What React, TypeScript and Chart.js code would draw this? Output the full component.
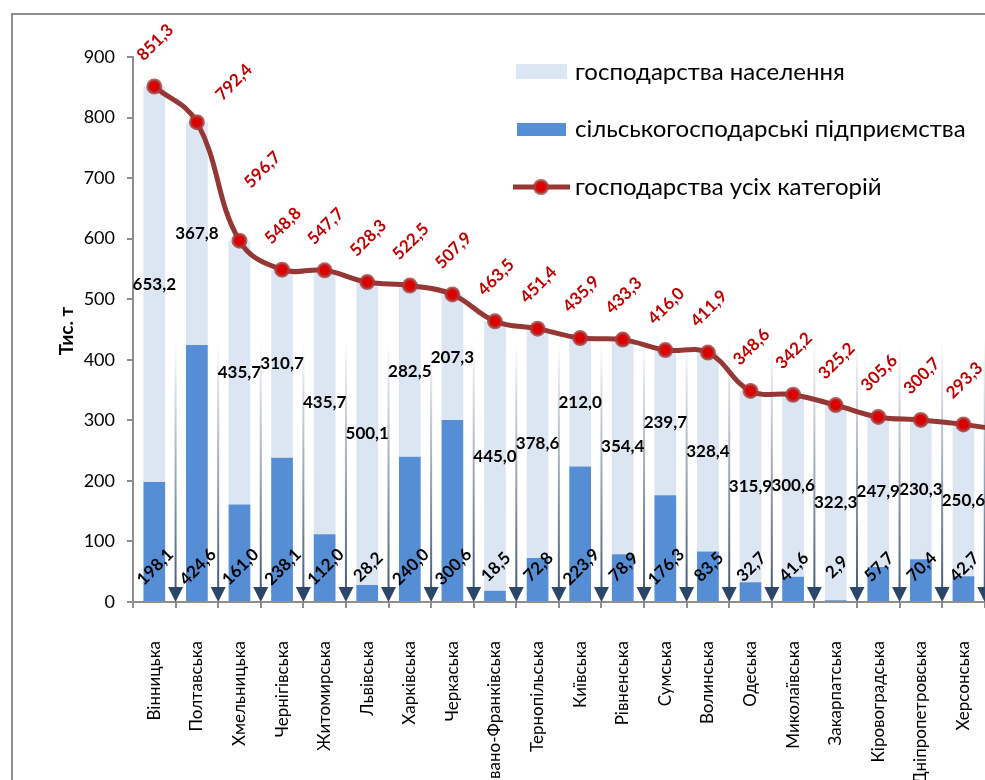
import React, { useEffect, useRef } from 'react';
import { Chart, registerables } from 'chart.js';

Chart.register(...registerables);

const categories = [
  'Вінницька', 'Полтавська', 'Хмельницька', 'Чернігівська', 'Житомирська',
  'Львівська', 'Харківська', 'Черкаська', 'Івано-Франківська', 'Тернопільська',
  'Київська', 'Рівненська', 'Сумська', 'Волинська', 'Одеська',
  'Миколаївська', 'Закарпатська', 'Кіровоградська', 'Дніпропетровська', 'Херсонська',
  '',
];

const enterprises = [
  198.1, 424.6, 161.0, 238.1, 112.0, 28.2, 240.0, 300.6, 18.5, 72.8,
  223.9, 78.9, 176.3, 83.5, 32.7, 41.6, 2.9, 57.7, 70.4, 42.7, null,
];

const households = [
  653.2, 367.8, 435.7, 310.7, 435.7, 500.1, 282.5, 207.3, 445.0, 378.6,
  212.0, 354.4, 239.7, 328.4, 315.9, 300.6, 322.3, 247.9, 230.3, 250.6, null,
];

const totals = [
  851.3, 792.4, 596.7, 548.8, 547.7, 528.3, 522.5, 507.9, 463.5, 451.4,
  435.9, 433.3, 416.0, 411.9, 348.6, 342.2, 325.2, 305.6, 300.7, 293.3, 283.0,
];

const yTicks = [0, 100, 200, 300, 400, 500, 600, 700, 800, 900];

const legendLabels = [
  'господарства населення',
  'сільськогосподарські підприємства',
  'господарства усіх категорій',
];

const axisTitle = 'Тис. т';

const W = 1060;
const H = 780;
const FONT = 'Lato, "Open Sans", "Noto Sans", sans-serif';

const LIGHT = '#dce6f2';
const BLUE = '#558ed5';
const LINE = '#953735';
const MARK = '#dd0000';
const RED_TXT = '#c00000';
const AXIS = '#8e8e8e';
const ARROW = '#2c4669';

// manual label nudges (pixels) for the total labels, as placed in the original
const totalNudge: Record<number, [number, number]> = {
  1: [36, 4],
  2: [22, -27],
};

const fmt = (v: number) => v.toFixed(1).replace('.', ',');

export default function App() {
  const ref = useRef<HTMLCanvasElement>(null);

  useEffect(() => {
    const canvas = ref.current!;

    const decor = {
      id: 'decor',
      beforeDatasetsDraw(chart: any) {
        const ctx = chart.ctx;
        const xs = chart.scales.x;
        const area = chart.chartArea;
        const cw = (area.right - area.left) / categories.length;
        const topY = 340;
        const bot = area.bottom;
        ctx.save();
        for (let i = 0; i < categories.length; i++) {
          const bx = xs.getPixelForValue(i) + cw / 2;
          const g = ctx.createLinearGradient(0, topY, 0, bot - 14);
          g.addColorStop(0, 'rgba(60,85,120,0)');
          g.addColorStop(1, 'rgba(60,85,120,0.95)');
          ctx.strokeStyle = g;
          ctx.lineWidth = 2;
          ctx.beginPath();
          ctx.moveTo(bx, topY);
          ctx.lineTo(bx, bot - 14);
          ctx.stroke();
          ctx.fillStyle = ARROW;
          ctx.beginPath();
          ctx.moveTo(bx - 7.5, bot - 15);
          ctx.lineTo(bx + 7.5, bot - 15);
          ctx.lineTo(bx, bot);
          ctx.closePath();
          ctx.fill();
        }
        ctx.restore();
      },
      afterDatasetsDraw(chart: any) {
        const ctx = chart.ctx;
        const xs = chart.scales.x;
        const ys = chart.scales.y;
        const area = chart.chartArea;
        ctx.save();
        for (let i = 0; i < categories.length; i++) {
          const xc = xs.getPixelForValue(i);
          const e = enterprises[i];
          const h = households[i];
          const t = totals[i];
          if (h != null && e != null) {
            ctx.font = `bold 17px ${FONT}`;
            ctx.fillStyle = '#000';
            ctx.textAlign = 'center';
            ctx.textBaseline = 'middle';
            ctx.fillText(fmt(h), xc, ys.getPixelForValue(e + h / 2));
          }
          if (e != null) {
            ctx.save();
            ctx.translate(xc + 1, area.bottom - 35);
            ctx.rotate(-Math.PI / 4);
            ctx.font = `bold 17px ${FONT}`;
            ctx.fillStyle = '#000';
            ctx.textAlign = 'center';
            ctx.textBaseline = 'middle';
            ctx.fillText(fmt(e), 0, 0);
            ctx.restore();
          }
          if (t != null) {
            const nd = totalNudge[i] || [0, 0];
            ctx.save();
            ctx.translate(xc + 1 + nd[0], ys.getPixelForValue(t) - 44 + nd[1]);
            ctx.rotate(-Math.PI / 4);
            ctx.font = `bold 17px ${FONT}`;
            ctx.fillStyle = RED_TXT;
            ctx.textAlign = 'center';
            ctx.textBaseline = 'middle';
            ctx.fillText(fmt(t), 0, 0);
            ctx.restore();
          }
        }
        ctx.restore();
      },
      afterDraw(chart: any) {
        const ctx = chart.ctx;
        ctx.save();
        ctx.translate(67, 331);
        ctx.rotate(-Math.PI / 2);
        ctx.font = `bold 19px ${FONT}`;
        ctx.fillStyle = '#000';
        ctx.textAlign = 'center';
        ctx.textBaseline = 'middle';
        ctx.fillText(axisTitle, 0, 0);
        ctx.restore();

        ctx.save();
        ctx.font = `24px ${FONT}`;
        ctx.textAlign = 'left';
        ctx.textBaseline = 'middle';
        const rows = [72, 129, 187];
        ctx.fillStyle = LIGHT;
        ctx.fillRect(516, 64, 51, 15);
        ctx.fillStyle = BLUE;
        ctx.fillRect(517, 123, 49, 13);
        ctx.strokeStyle = LINE;
        ctx.lineWidth = 5;
        ctx.beginPath();
        ctx.moveTo(513, 187);
        ctx.lineTo(570, 187);
        ctx.stroke();
        ctx.beginPath();
        ctx.arc(541, 187, 6.5, 0, Math.PI * 2);
        ctx.fillStyle = MARK;
        ctx.fill();
        ctx.lineWidth = 3;
        ctx.strokeStyle = 'rgba(165,60,60,0.8)';
        ctx.stroke();
        ctx.fillStyle = '#000';
        for (let i = 0; i < 3; i++) ctx.fillText(legendLabels[i], 575, rows[i]);
        ctx.restore();
      },
    };

    const chart = new Chart(canvas, {
      type: 'bar',
      data: {
        labels: categories,
        datasets: [
          {
            type: 'line',
            label: legendLabels[2],
            data: totals,
            stack: 'line',
            order: 0,
            borderColor: LINE,
            borderWidth: 5,
            tension: 0.4,
            pointRadius: 6.5,
            pointBackgroundColor: MARK,
            pointBorderColor: 'rgba(165,60,60,0.8)',
            pointBorderWidth: 3,
            fill: false,
          } as any,
          {
            type: 'bar',
            label: legendLabels[1],
            data: enterprises,
            stack: 'bars',
            order: 1,
            backgroundColor: BLUE,
            barPercentage: 0.51,
            categoryPercentage: 1,
          },
          {
            type: 'bar',
            label: legendLabels[0],
            data: households,
            stack: 'bars',
            order: 1,
            backgroundColor: LIGHT,
            barPercentage: 0.51,
            categoryPercentage: 1,
          },
        ],
      },
      options: {
        responsive: false,
        animation: false,
        events: [],
        layout: { padding: { left: 0, top: 57, right: 24, bottom: 0 } },
        plugins: { legend: { display: false }, tooltip: { enabled: false } },
        scales: {
          x: {
            stacked: true,
            offset: true,
            grid: {
              offset: true,
              drawOnChartArea: false,
              drawTicks: true,
              tickLength: 6,
              color: AXIS,
              lineWidth: 2,
            },
            border: { color: AXIS, width: 2 },
            ticks: {
              autoSkip: false,
              minRotation: 90,
              maxRotation: 90,
              padding: 33,
              color: '#000',
              font: { family: FONT, size: 17 },
            },
            afterFit(s: any) {
              s.height = H - 602;
            },
          },
          y: {
            stacked: true,
            min: 0,
            max: 900,
            afterBuildTicks(s: any) {
              s.ticks = yTicks.map((v) => ({ value: v }));
            },
            ticks: {
              padding: 12,
              color: '#000',
              font: { family: FONT, size: 18 },
            },
            grid: {
              drawOnChartArea: false,
              drawTicks: true,
              tickLength: 6,
              color: AXIS,
              lineWidth: 2,
            },
            border: { color: AXIS, width: 2 },
            afterFit(s: any) {
              s.width = 133;
            },
          },
        },
      },
      plugins: [decor],
    });

    return () => chart.destroy();
  }, []);

  return (
    <div
      style={{
        position: 'fixed',
        left: 0,
        top: 0,
        width: 985,
        height: 780,
        overflow: 'hidden',
        background: '#fff',
      }}
    >
      <div
        style={{
          position: 'absolute',
          left: 11,
          top: 13,
          width: 1200,
          height: 900,
          border: `2px solid ${AXIS}`,
        }}
      />
      <canvas
        ref={ref}
        width={W}
        height={H}
        style={{ position: 'absolute', left: 0, top: 0, width: W, height: H }}
      />
    </div>
  );
}
